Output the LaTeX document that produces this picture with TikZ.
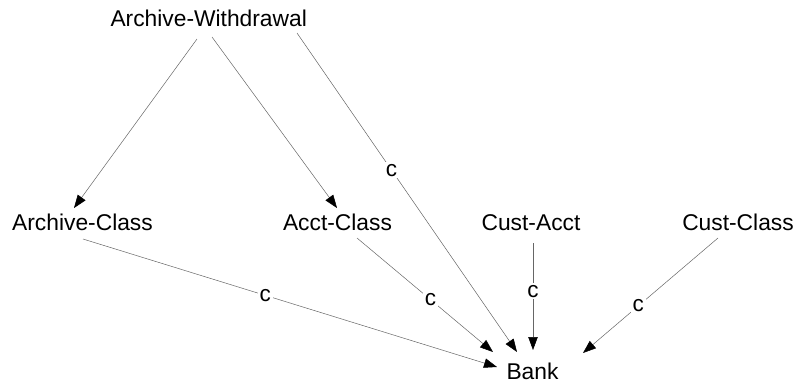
\documentclass[tikz,border=0pt]{standalone}
\usepackage{fontspec}
\setmainfont{Liberation Sans}
\usetikzlibrary{calc,arrows.meta}
\begin{document}
\begin{tikzpicture}[x=1pt,y=-1pt,
  cls/.style={anchor=base,inner sep=0pt,font=\fontsize{22.8}{26}\selectfont},
  link/.style={draw=black!60,line width=0.5pt,
    -{Triangle[length=13pt,width=9.5pt,color=black]}},
  tag/.style={fill=white,inner sep=2pt,font=\fontsize{22.5}{26}\selectfont}]
\useasboundingbox (0,0) rectangle (796,383);

% classes
\node[cls] (aw)   at (208.7,26)  {Archive-Withdrawal};
\node[cls] (ac)   at (82.5,230)  {Archive-Class};
\node[cls] (acct) at (337.5,230) {Acct-Class};
\node[cls] (ca)   at (531,230)   {Cust-Acct};
\node[cls] (cc)   at (738,230)   {Cust-Class};
\node[cls] (bank) at (532.5,379) {Bank};

% plain links
\draw[link] ($(aw.base)+(-11.7,13)$) -- ($(ac.base)+(-8.5,-22)$);
\draw[link] ($(aw.base)+(3.3,11)$)   -- ($(acct.base)+(-0.5,-22)$);

% links marked c
\draw[link] ($(aw.base)+(88.3,7)$)   -- node[tag,pos=0.43]{c}  ($(bank.base)+(-15.5,-27)$);
\draw[link] ($(ac.base)+(0.5,9)$)    -- node[tag,pos=0.44]{c}  ($(bank.base)+(-35.5,-12)$);
\draw[link] ($(acct.base)+(19.5,8)$) -- node[tag,pos=0.54]{c}  ($(bank.base)+(-39.5,-27)$);
\draw[link] ($(ca.base)+(2,13)$)     -- node[tag,pos=0.45]{c}  ($(bank.base)+(0.5,-29)$);
\draw[link] ($(cc.base)+(-20,8)$)    -- node[tag,pos=0.59]{c}  ($(bank.base)+(50.5,-26)$);
\end{tikzpicture}
\end{document}
